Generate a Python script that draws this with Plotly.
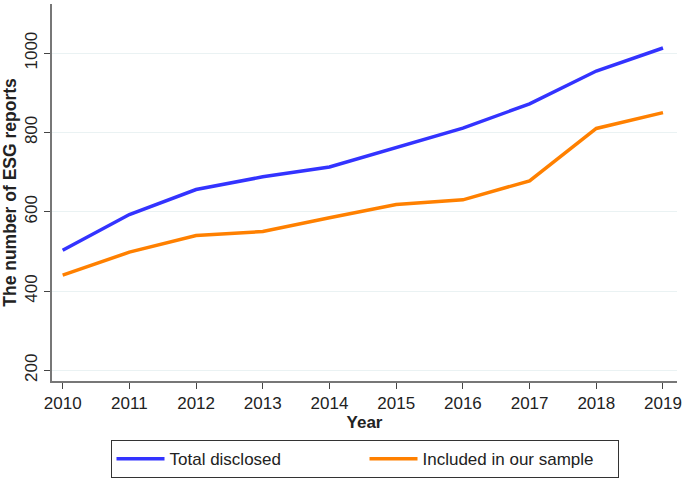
import plotly.graph_objects as go

# DATA
# ----------------------------------------------------------------------------------------------------
years = [2010, 2011, 2012, 2013, 2014, 2015, 2016, 2017, 2018, 2019]
total_disclosed = [503, 593, 656, 688, 713, 762, 811, 872, 955, 1013]
in_sample = [440, 498, 540, 550, 585, 618, 630, 678, 810, 850]
y_ticks = [200, 400, 600, 800, 1000]

# FIGURE
# ----------------------------------------------------------------------------------------------------
fig = go.Figure()

fig.add_trace(go.Scatter(
    x=years, y=total_disclosed, mode='lines', name='Total disclosed',
    line={'color': '#3333ff', 'width': 3.5}
))
fig.add_trace(go.Scatter(
    x=years, y=in_sample, mode='lines', name='Included in our sample',
    line={'color': '#ff8000', 'width': 3.5}
))

axis_font = {'family': 'Liberation Sans, Arial, sans-serif', 'size': 17, 'color': '#222222'}

fig.update_xaxes(
    range=[2009.84, 2019.21],
    tickvals=years,
    ticks='outside', ticklen=6, tickwidth=1.2, tickcolor='#444444',
    showline=True, linecolor='#777777', linewidth=1.5,
    showgrid=False, zeroline=False,
    tickfont=axis_font,
    automargin=False,
    title={'text': '<b>Year</b>', 'font': axis_font, 'standoff': 0}
)

fig.update_yaxes(
    range=[173, 1124],
    tickvals=y_ticks,
    tickangle=-90,
    ticks='outside', ticklen=6, tickwidth=1.2, tickcolor='#444444',
    showline=True, linecolor='#777777', linewidth=1.5,
    showgrid=True, gridcolor='#eaf2f3', gridwidth=1,
    zeroline=False,
    tickfont=axis_font,
    automargin=False,
    title={'text': '<b>The number of ESG reports</b>', 'font': {**axis_font, 'size': 17.5}, 'standoff': 4}
)

fig.update_layout(
    width=685, height=482,
    margin={'l': 52, 'r': 8, 't': 4, 'b': 96},
    paper_bgcolor='white', plot_bgcolor='white',
    font=axis_font,
    showlegend=True,
    legend={
        'orientation': 'h',
        'x': 0.5, 'xanchor': 'center',
        'y': -0.157, 'yanchor': 'top',
        'bordercolor': '#333333', 'borderwidth': 1,
        'bgcolor': 'white',
        'entrywidth': 190,
        'itemwidth': 48,
        'font': axis_font
    }
)

# drop the default body margin so the figure sits at the page corner
fig.write_html(
    "out.html",
    config={'displayModeBar': False},
    post_script="document.body.style.margin = '0';"
)
